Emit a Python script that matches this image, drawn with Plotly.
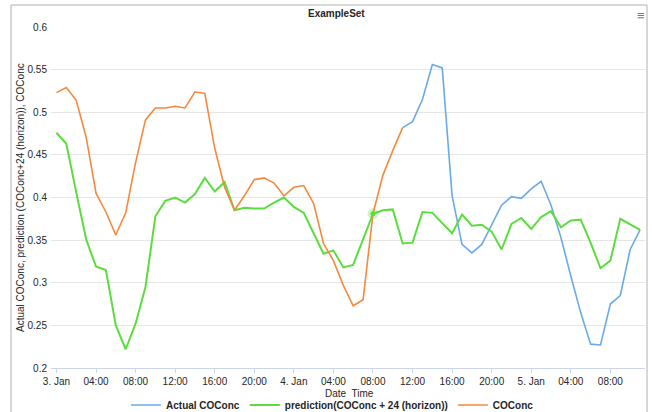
import pandas as pd
import plotly.graph_objects as go

# ---------------- data ----------------
start = pd.Timestamp("2005-01-03 00:00")
hours = list(range(60))
times = [start + pd.Timedelta(hours=h) for h in hours]

prediction = [0.476, 0.463, 0.406, 0.351, 0.319, 0.315, 0.250, 0.222, 0.252, 0.295,
              0.378, 0.396, 0.400, 0.394, 0.404, 0.423, 0.407, 0.418, 0.385, 0.388,
              0.387, 0.387, 0.394, 0.400, 0.389, 0.382, 0.358, 0.334, 0.338, 0.318,
              0.321, 0.350, 0.381, 0.385, 0.386, 0.346, 0.347, 0.383, 0.382, 0.370,
              0.358, 0.380, 0.367, 0.368, 0.360, 0.339, 0.369, 0.376, 0.363, 0.377,
              0.384, 0.365, 0.373, 0.374, 0.347, 0.317, 0.326, 0.375, 0.368, 0.362]

coconc = [0.523, 0.529, 0.514, 0.471, 0.405, 0.383, 0.356, 0.382, 0.441, 0.491,
          0.505, 0.505, 0.507, 0.505, 0.524, 0.522, 0.458, 0.412, 0.385, 0.402,
          0.421, 0.423, 0.417, 0.402, 0.412, 0.414, 0.393, 0.346, 0.326, 0.297,
          0.273, 0.280, 0.381, 0.426, 0.455, 0.482]

actual = [0.482, 0.489, 0.515, 0.556, 0.552, 0.402, 0.345, 0.335, 0.345, 0.368,
          0.391, 0.401, 0.399, 0.410, 0.419, 0.391, 0.353, 0.308, 0.265, 0.228,
          0.227, 0.275, 0.285, 0.339, 0.362]
actual_start = 35  # hour index where the actual series begins

highlight_hour = 32

x_tick_hours = list(range(0, 57, 4))
x_tick_text = ["3. Jan", "04:00", "08:00", "12:00", "16:00", "20:00",
               "4. Jan", "04:00", "08:00", "12:00", "16:00", "20:00",
               "5. Jan", "04:00", "08:00"]
y_tick_vals = [0.2, 0.25, 0.3, 0.35, 0.4, 0.45, 0.5, 0.55, 0.6]
y_tick_text = ["0.2", "0.25", "0.3", "0.35", "0.4", "0.45", "0.5", "0.55", "0.6"]

# ---------------- layout geometry ----------------
W, H = 652, 412
ML, MR, MT, MB = 51, 7, 27, 44
PW, PH = W - ML - MR, H - MT - MB


def px_x(px):
    return (px - ML) / PW


def px_y(py):
    return (H - MB - py) / PH


FONT = "Liberation Sans, Arial, sans-serif"
TXT = "#262626"
BLUE = "#6aaae8"
GREEN = "#5ddc3f"
ORANGE = "#f5893d"

fig = go.Figure()
fig.add_trace(go.Scatter(x=times[actual_start:actual_start + len(actual)], y=actual,
                         mode="lines", name="Actual COConc",
                         line=dict(color=BLUE, width=1.6)))
fig.add_trace(go.Scatter(x=times, y=prediction, mode="lines",
                         name="prediction(COConc + 24 (horizon))",
                         line=dict(color=GREEN, width=2)))
fig.add_trace(go.Scatter(x=times[:len(coconc)], y=coconc, mode="lines",
                         name="COConc", line=dict(color=ORANGE, width=1.6)))
# hover highlight on the prediction line
fig.add_trace(go.Scatter(x=[times[highlight_hour]], y=[prediction[highlight_hour]],
                         mode="markers", showlegend=False, hoverinfo="skip",
                         marker=dict(color="rgba(93,220,63,0.3)", size=11)))
fig.add_trace(go.Scatter(x=[times[highlight_hour]], y=[prediction[highlight_hour]],
                         mode="markers", showlegend=False, hoverinfo="skip",
                         marker=dict(color=GREEN, size=5)))

x0 = start + pd.Timedelta(hours=-0.55)
x1 = start + pd.Timedelta(hours=59.5)

fig.update_layout(
    width=W, height=H,
    margin=dict(l=ML, r=MR, t=MT, b=MB, pad=0, autoexpand=False),
    paper_bgcolor="white", plot_bgcolor="white",
    font=dict(family=FONT, size=10, color=TXT),
    showlegend=True,
    legend=dict(orientation="h", xref="container", yref="container",
                x=0.51, xanchor="center", y=(H - 405) / H, yanchor="middle",
                font=dict(family=FONT, size=10, color=TXT, weight="bold"),
                itemwidth=30, tracegroupgap=0, bgcolor="rgba(0,0,0,0)"),
    xaxis=dict(type="date", range=[x0, x1], automargin=False,
               tickvals=[times[h] for h in x_tick_hours], ticktext=x_tick_text,
               showgrid=False, zeroline=False,
               showline=True, linecolor="#ccd6eb", linewidth=1,
               ticks="outside", ticklen=4, tickcolor="#ccd6eb",
               tickfont=dict(family=FONT, size=10, color=TXT),
               fixedrange=True),
    yaxis=dict(range=[0.2, 0.6], tickvals=y_tick_vals, ticktext=y_tick_text,
               automargin=False,
               showgrid=True, gridcolor="#e6e6e6", gridwidth=1, zeroline=False,
               showline=False, ticks="", ticklabelstandoff=3,
               tickfont=dict(family=FONT, size=10, color=TXT),
               fixedrange=True),
    shapes=[dict(type="rect", xref="paper", yref="paper",
                 x0=px_x(11), x1=px_x(647), y0=px_y(420), y1=px_y(5),
                 line=dict(color="#b0b0b0", width=1), fillcolor="rgba(0,0,0,0)",
                 layer="below")],
    annotations=[
        dict(text="<b>ExampleSet</b>", xref="paper", yref="paper",
             x=px_x(336), y=px_y(13), showarrow=False, xanchor="center", yanchor="middle",
             font=dict(family=FONT, size=10, color=TXT)),
        dict(text="≡", xref="paper", yref="paper",
             x=px_x(641), y=px_y(15), showarrow=False, xanchor="center", yanchor="middle",
             font=dict(family=FONT, size=13, color="#777777")),
        dict(text="Date  Time", xref="paper", yref="paper",
             x=px_x(349), y=px_y(393), showarrow=False, xanchor="center", yanchor="middle",
             font=dict(family=FONT, size=10, color=TXT)),
        dict(text="Actual COConc, prediction (COConc+24 (horizon)), COConc",
             xref="paper", yref="paper", textangle=-90,
             x=px_x(20), y=px_y(198), showarrow=False, xanchor="center", yanchor="middle",
             font=dict(family=FONT, size=10, color=TXT)),
    ],
)

fig.write_html("out.html", config={"displayModeBar": False},
               post_script="document.body.style.margin='0';document.body.style.padding='0';")
